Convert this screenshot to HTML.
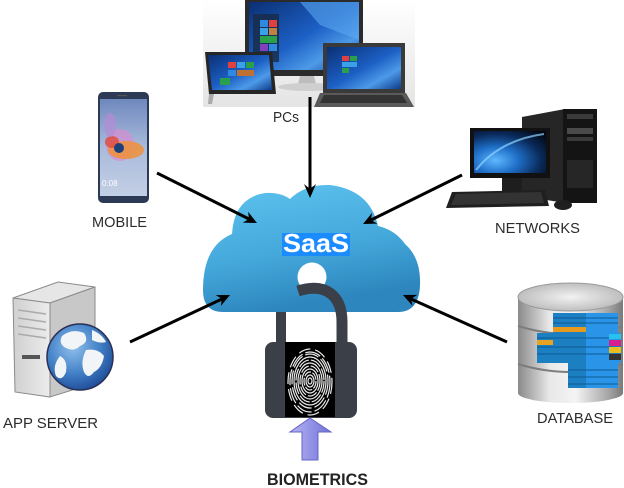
<!DOCTYPE html>
<html><head><meta charset="utf-8">
<style>
html,body{margin:0;padding:0;background:#fff;}
svg{display:block;}
text{font-family:"Liberation Sans",Arial,sans-serif;}
</style></head><body>
<svg width="624" height="488" viewBox="0 0 624 488" xmlns="http://www.w3.org/2000/svg">
<defs>
  <linearGradient id="cloudG" x1="0" y1="0" x2="0.3" y2="1">
    <stop offset="0" stop-color="#5ec4ef"/>
    <stop offset="0.6" stop-color="#44a8db"/>
    <stop offset="1" stop-color="#2d86bd"/>
  </linearGradient>
  <linearGradient id="winG" x1="0" y1="0" x2="1" y2="1">
    <stop offset="0" stop-color="#0b2f73"/>
    <stop offset="0.5" stop-color="#1c5fc4"/>
    <stop offset="0.75" stop-color="#4d9ae8"/>
    <stop offset="1" stop-color="#0d3b8a"/>
  </linearGradient>
  <linearGradient id="pcBg" x1="0" y1="0" x2="0" y2="1">
    <stop offset="0" stop-color="#ffffff"/>
    <stop offset="1" stop-color="#e4e4e4"/>
  </linearGradient>
  <linearGradient id="phoneScr" x1="0" y1="0" x2="0" y2="1">
    <stop offset="0" stop-color="#6f88bd"/>
    <stop offset="0.5" stop-color="#a9badb"/>
    <stop offset="1" stop-color="#c3cfe4"/>
  </linearGradient>
  <radialGradient id="earthG" cx="0.3" cy="0.7" r="0.9">
    <stop offset="0" stop-color="#5fb8ff"/>
    <stop offset="0.35" stop-color="#1f6fc8"/>
    <stop offset="0.7" stop-color="#0a2a5a"/>
    <stop offset="1" stop-color="#020814"/>
  </radialGradient>
  <radialGradient id="globeG" cx="0.4" cy="0.35" r="0.7">
    <stop offset="0" stop-color="#8fc0ec"/>
    <stop offset="0.6" stop-color="#3f7dc4"/>
    <stop offset="1" stop-color="#1d4a94"/>
  </radialGradient>
  <linearGradient id="srvFront" x1="0" y1="0" x2="1" y2="0">
    <stop offset="0" stop-color="#d0d0d0"/>
    <stop offset="1" stop-color="#ececec"/>
  </linearGradient>
  <linearGradient id="silver" x1="0" y1="0" x2="1" y2="0">
    <stop offset="0" stop-color="#8a8a8a"/>
    <stop offset="0.3" stop-color="#e8e8e8"/>
    <stop offset="0.55" stop-color="#f4f4f4"/>
    <stop offset="0.85" stop-color="#a8a8a8"/>
    <stop offset="1" stop-color="#7a7a7a"/>
  </linearGradient>
  <radialGradient id="dbTop" cx="0.5" cy="0.5" r="0.6">
    <stop offset="0" stop-color="#f2f2f2"/>
    <stop offset="1" stop-color="#b4b4b4"/>
  </radialGradient>
  <linearGradient id="blueArrow" x1="0" y1="0" x2="1" y2="0">
    <stop offset="0" stop-color="#b4b4f4"/>
    <stop offset="1" stop-color="#7272d8"/>
  </linearGradient>
</defs>

<!-- ===== PCs image ===== -->
<rect x="203" y="0" width="212" height="107" fill="url(#pcBg)"/>
<rect x="245" y="0" width="118" height="76" fill="#2b2b2b"/>
<rect x="249" y="2" width="110" height="68" fill="url(#winG)"/>
<polygon points="300,2 359,2 359,40 320,25" fill="#5aa6f0" opacity="0.6"/>
<rect x="253" y="14" width="26" height="48" fill="#1a2a45" opacity="0.8"/>
<rect x="260" y="20" width="8" height="7" fill="#2d8ae0"/>
<rect x="269" y="20" width="8" height="7" fill="#e04040"/>
<rect x="260" y="28" width="8" height="7" fill="#3aa0e8"/>
<rect x="269" y="28" width="8" height="7" fill="#c08040"/>
<rect x="260" y="36" width="17" height="7" fill="#2aa04a"/>
<rect x="260" y="44" width="8" height="7" fill="#8040c0"/>
<rect x="269" y="44" width="8" height="7" fill="#2d8ae0"/>
<polygon points="300,76 314,76 316,84 298,84" fill="#bdbdbd"/>
<ellipse cx="308" cy="87" rx="30" ry="4" fill="#cfcfcf"/>
<polygon points="205,52 272,52 276,94 209,94" fill="#262626"/>
<polygon points="208,55 269,55 272,90 212,90" fill="url(#winG)"/>
<rect x="228" y="62" width="8" height="6" fill="#e04040"/>
<rect x="237" y="62" width="8" height="6" fill="#3aa0e8"/>
<rect x="246" y="62" width="8" height="6" fill="#2aa04a"/>
<rect x="228" y="70" width="8" height="6" fill="#2d8ae0"/>
<rect x="237" y="70" width="17" height="6" fill="#c07030"/>
<rect x="220" y="78" width="10" height="7" fill="#2aa04a"/>
<polygon points="209,94 214,94 212,104 208,104" fill="#aaa"/>
<rect x="323" y="43" width="82" height="50" fill="#3a3a3a"/>
<rect x="327" y="47" width="74" height="42" fill="url(#winG)"/>
<rect x="342" y="56" width="7" height="5" fill="#e04040"/>
<rect x="350" y="56" width="7" height="5" fill="#2aa04a"/>
<rect x="342" y="62" width="15" height="5" fill="#3aa0e8"/>
<rect x="342" y="68" width="7" height="5" fill="#2aa04a"/>
<polygon points="320,93 406,93 414,107 314,107" fill="#5a5a5a"/>
<polygon points="324,95 402,95 407,103 320,103" fill="#333"/>

<text x="273" y="122" font-size="14.5" fill="#2b2b2b" textLength="26" lengthAdjust="spacingAndGlyphs">PCs</text>

<!-- ===== Mobile ===== -->
<rect x="98" y="92" width="51" height="111" rx="5" fill="#2c3a55"/>
<rect x="100" y="99" width="47" height="97" fill="url(#phoneScr)"/>
<ellipse cx="120" cy="145" rx="14" ry="16" fill="#d98bd0" opacity="0.7"/>
<ellipse cx="126" cy="150" rx="18" ry="9" fill="#f0903a" opacity="0.85"/>
<ellipse cx="112" cy="142" rx="7" ry="6" fill="#e04a3a" opacity="0.8"/>
<ellipse cx="119" cy="148" rx="5" ry="5" fill="#1d3f7a"/>
<ellipse cx="110" cy="125" rx="6" ry="12" fill="#b58ad6" opacity="0.7"/>
<text x="102" y="186" font-size="8" fill="#ffffff">0:08</text>
<rect x="117" y="95" width="10" height="1.2" fill="#555"/>

<text x="92" y="227" font-size="14.5" fill="#2b2b2b" textLength="55" lengthAdjust="spacingAndGlyphs">MOBILE</text>

<!-- ===== Networks ===== -->
<polygon points="522,117 565,109 565,203 522,196" fill="#262626"/>
<rect x="563" y="109" width="34" height="94" fill="#141414"/>
<rect x="567" y="114" width="26" height="5" fill="#3a3a3a"/>
<rect x="567" y="128" width="26" height="6" fill="#4a4a4a"/>
<rect x="567" y="137" width="26" height="4" fill="#3a3a3a"/>
<rect x="567" y="160" width="26" height="28" fill="#262626"/>
<rect x="502" y="176" width="20" height="18" fill="#1e1e1e"/>
<rect x="470" y="128" width="80" height="50" fill="#111"/>
<rect x="474" y="131" width="72" height="42" fill="url(#earthG)"/>
<path d="M476,170 Q500,140 544,134" stroke="#8fd4ff" stroke-width="2" fill="none" opacity="0.7"/>
<polygon points="452,192 545,190 549,206 446,208" fill="#1f1f1f"/>
<polygon points="456,194 541,192 544,203 451,205" fill="#333"/>
<ellipse cx="563" cy="205" rx="9" ry="5" fill="#1f1f1f"/>

<text x="495" y="233" font-size="14.5" fill="#2b2b2b" textLength="85" lengthAdjust="spacingAndGlyphs">NETWORKS</text>

<!-- ===== App server ===== -->
<polygon points="13,298 58,282 95,287 50,303" fill="#e6e6e6" stroke="#8a8a8a" stroke-width="1"/>
<polygon points="13,298 50,303 50,397 15,392" fill="url(#srvFront)" stroke="#8a8a8a" stroke-width="1"/>
<polygon points="50,303 95,287 95,383 50,397" fill="#c8c8c8" stroke="#8a8a8a" stroke-width="1"/>
<line x1="18" y1="310" x2="46" y2="314" stroke="#aaa" stroke-width="1.5"/>
<line x1="18" y1="318" x2="46" y2="322" stroke="#aaa" stroke-width="1.5"/>
<line x1="18" y1="326" x2="46" y2="330" stroke="#aaa" stroke-width="1.5"/>
<line x1="18" y1="334" x2="46" y2="338" stroke="#aaa" stroke-width="1.5"/>
<rect x="22" y="355" width="18" height="4" fill="#555"/>
<circle cx="80" cy="357" r="33" fill="url(#globeG)" stroke="#2a2f55" stroke-width="1.5"/>
<path d="M62,336 Q72,328 84,333 Q90,342 80,346 Q74,352 66,348 Q58,344 62,336 Z" fill="#f2f5f8"/>
<path d="M86,350 Q98,348 104,356 Q102,368 94,372 Q88,380 84,372 Q80,362 86,350 Z" fill="#f2f5f8"/>
<path d="M60,356 Q68,360 66,372 Q62,382 56,376 Q52,366 60,356 Z" fill="#f2f5f8"/>
<path d="M92,330 Q102,334 106,342 Q100,344 92,340 Z" fill="#f2f5f8"/>

<text x="3" y="428" font-size="14.5" fill="#2b2b2b" textLength="95" lengthAdjust="spacingAndGlyphs">APP SERVER</text>

<!-- ===== Database ===== -->
<rect x="518" y="297" width="105" height="96" fill="url(#silver)"/>
<ellipse cx="570.5" cy="393" rx="52.5" ry="10" fill="url(#silver)"/>
<path d="M518,326 Q570,342 623,326" stroke="#7d7d7d" stroke-width="2" fill="none"/>
<path d="M518,364 Q570,380 623,364" stroke="#7d7d7d" stroke-width="2" fill="none"/>
<ellipse cx="570.5" cy="297" rx="52.5" ry="14" fill="url(#dbTop)" stroke="#9a9a9a" stroke-width="1"/>
<rect x="553" y="313" width="65" height="20" fill="#1d7fc4"/>
<rect x="586" y="313" width="32" height="20" fill="#2a95e8"/>
<line x1="553" y1="318" x2="618" y2="318" stroke="#0f5a92" stroke-width="1"/>
<line x1="553" y1="323" x2="618" y2="323" stroke="#0f5a92" stroke-width="1"/>
<rect x="553" y="327" width="33" height="5" fill="#e79a1e"/>
<rect x="537" y="333" width="84" height="30" fill="#1b7fc2"/>
<rect x="586" y="333" width="35" height="30" fill="#2a95e8"/>
<rect x="537" y="340" width="16" height="5" fill="#e8a420"/>
<line x1="537" y1="338" x2="621" y2="338" stroke="#0f5a92" stroke-width="1"/>
<line x1="537" y1="347" x2="621" y2="347" stroke="#0f5a92" stroke-width="1"/>
<line x1="537" y1="354" x2="621" y2="354" stroke="#0f5a92" stroke-width="1"/>
<rect x="609" y="334" width="12" height="5" fill="#25c3ee"/>
<rect x="609" y="340" width="12" height="6" fill="#d61e8e"/>
<rect x="609" y="347" width="12" height="6" fill="#e8bf20"/>
<rect x="609" y="354" width="12" height="6" fill="#333"/>
<rect x="568" y="363" width="50" height="25" fill="#1b7fc2"/>
<rect x="586" y="363" width="32" height="25" fill="#2a95e8"/>
<line x1="568" y1="370" x2="618" y2="370" stroke="#0f5a92" stroke-width="1"/>
<line x1="568" y1="377" x2="618" y2="377" stroke="#0f5a92" stroke-width="1"/>
<line x1="568" y1="384" x2="618" y2="384" stroke="#0f5a92" stroke-width="1"/>

<text x="537" y="423" font-size="14.5" fill="#2b2b2b" textLength="76" lengthAdjust="spacingAndGlyphs">DATABASE</text>

<!-- ===== Cloud ===== -->
<rect x="276" y="300" width="10" height="46" fill="#3b4048"/>
<path d="M223,312 Q203,312 203,290 Q203,246 232,234 Q234,198 265,193 Q280,192 290,199 Q305,184 330,185 Q370,190 378,226 Q395,230 405,244 Q421,258 420,285 Q419,312 398,312 Z" fill="url(#cloudG)"/>
<circle cx="312" cy="277" r="14.5" fill="#ffffff"/>
<path d="M298,291 C326,282 342,296 342,322 L342,346" stroke="#3b4048" stroke-width="11" fill="none"/>

<rect x="282" y="233" width="68" height="23" fill="#1a8cff"/>
<text x="283" y="252" font-size="26" font-weight="bold" fill="#ffffff" textLength="66" lengthAdjust="spacingAndGlyphs">SaaS</text>

<!-- ===== Lock ===== -->
<rect x="265" y="342" width="92" height="76" rx="8" fill="#3b4048"/>
<rect x="285" y="342" width="50" height="75" fill="#000"/>
<g fill="none" stroke="#ffffff" stroke-width="1.2" opacity="0.92">
  <ellipse cx="310" cy="381" rx="2" ry="3"/>
  <ellipse cx="310" cy="381" rx="4" ry="6"/>
  <ellipse cx="310" cy="381" rx="6" ry="9" stroke-dasharray="8 1.5"/>
  <ellipse cx="310" cy="381" rx="8" ry="12"/>
  <ellipse cx="310" cy="381" rx="10" ry="15" stroke-dasharray="10 2"/>
  <ellipse cx="310" cy="381" rx="12" ry="18"/>
  <ellipse cx="310" cy="381" rx="14" ry="21" stroke-dasharray="12 2"/>
  <ellipse cx="310" cy="381" rx="16" ry="24"/>
  <ellipse cx="310" cy="381" rx="18" ry="27" stroke-dasharray="14 3"/>
  <ellipse cx="310" cy="382" rx="20" ry="30" stroke-dasharray="16 3"/>
  <ellipse cx="310" cy="382" rx="22" ry="33" stroke-dasharray="12 5"/>
</g>

<polygon points="310,418 331,432 318,432 318,460 302,460 302,432 290,432" fill="url(#blueArrow)" stroke="#6464c8" stroke-width="1"/>

<text x="267" y="485" font-size="17" font-weight="bold" fill="#222" textLength="101" lengthAdjust="spacingAndGlyphs">BIOMETRICS</text>

<!-- ===== Connector arrows ===== -->
<g stroke="#000" stroke-width="3" fill="none">
  <line x1="310" y1="97" x2="310" y2="190"/>
  <line x1="157" y1="173" x2="249" y2="219"/>
  <line x1="462" y1="175" x2="371" y2="220"/>
  <line x1="130" y1="342" x2="222" y2="299"/>
  <line x1="507" y1="342" x2="411" y2="299"/>
</g>
<g fill="#000">
  <polygon points="310,198 316,184 310,189 304,184"/>
  <polygon points="257,223 242.7,222.6 249,219 248.1,211.8"/>
  <polygon points="363,224 372,212.9 371,220 377.3,223.6"/>
  <polygon points="230,295 220.8,306 221.9,298.8 215.7,295.1"/>
  <polygon points="403,295 417.3,294.9 411.2,298.7 412.4,305.8"/>
</g>
</svg>
</body></html>
